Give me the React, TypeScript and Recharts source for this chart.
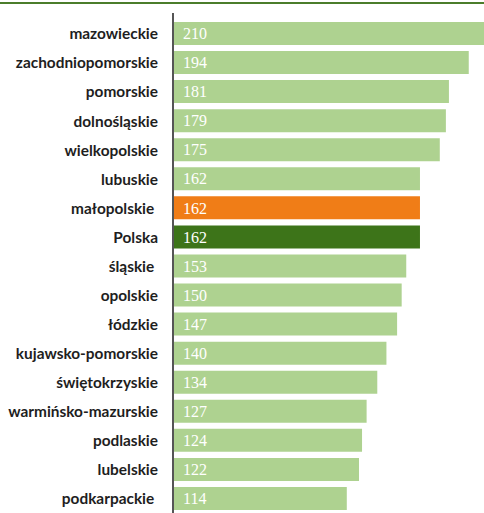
import { BarChart, Bar, XAxis, YAxis, Cell, LabelList } from 'recharts';

const regions = [
  'mazowieckie',
  'zachodniopomorskie',
  'pomorskie',
  'dolnośląskie',
  'wielkopolskie',
  'lubuskie',
  'małopolskie ',
  'Polska',
  'śląskie ',
  'opolskie',
  'łódzkie',
  'kujawsko-pomorskie',
  'świętokrzyskie',
  'warmińsko-mazurskie',
  'podlaskie',
  'lubelskie',
  'podkarpackie ',
];

const values = [210, 194, 181, 179, 175, 162, 162, 162, 153, 150, 147, 140, 134, 127, 124, 122, 114];

const HIGHLIGHT_REGION = 'małopolskie ';
const COUNTRY = 'Polska';

const LIGHT = '#aed290';
const ORANGE = '#f07d17';
const DARK = '#3d7419';

const data = regions.map((name, i) => ({ name, value: values[i] }));

function barColor(name: string) {
  if (name === COUNTRY) return DARK;
  if (name === HIGHLIGHT_REGION) return ORANGE;
  return LIGHT;
}

/** Left category label, keeps trailing spaces like the source. */
function RegionTick(props: any) {
  const { x, y, payload } = props;
  return (
    <text
      x={x}
      y={y}
      dy="0.38em"
      textAnchor="end"
      fill="#1e1e1e"
      fontFamily="Lato, sans-serif"
      fontWeight={700}
      fontSize={15.4}
      style={{ whiteSpace: 'pre' }}
    >
      {payload.value}
    </text>
  );
}

export default function App() {
  return (
    <div style={{ position: 'absolute', left: 0, top: 0, width: 484, height: 513, overflow: 'hidden', background: '#fff' }}>
      <div style={{ position: 'absolute', left: 0, top: 2, width: 484, height: 2, background: '#4b7d2b' }} />
      <BarChart
        width={484}
        height={513}
        data={data}
        layout="vertical"
        margin={{ top: 13, right: 0, bottom: 0, left: 0 }}
      >
        <XAxis type="number" domain={[0, 204]} allowDataOverflow hide />
        <YAxis
          type="category"
          dataKey="name"
          width={173}
          padding={{ top: 6, bottom: 0 }}
          axisLine={{ stroke: '#555', strokeWidth: 2 }}
          tickLine={false}
          tickSize={0}
          tickMargin={15}
          interval={0}
          tick={<RegionTick />}
        />
        <Bar dataKey="value" barSize={23} isAnimationActive={false}>
          {data.map((d) => (
            <Cell key={d.name} fill={barColor(d.name)} />
          ))}
          <LabelList
            dataKey="value"
            position="insideLeft"
            offset={10}
            fill="#ffffff"
            fontFamily="'Liberation Serif', serif"
            fontSize={16}
          />
        </Bar>
      </BarChart>
    </div>
  );
}
